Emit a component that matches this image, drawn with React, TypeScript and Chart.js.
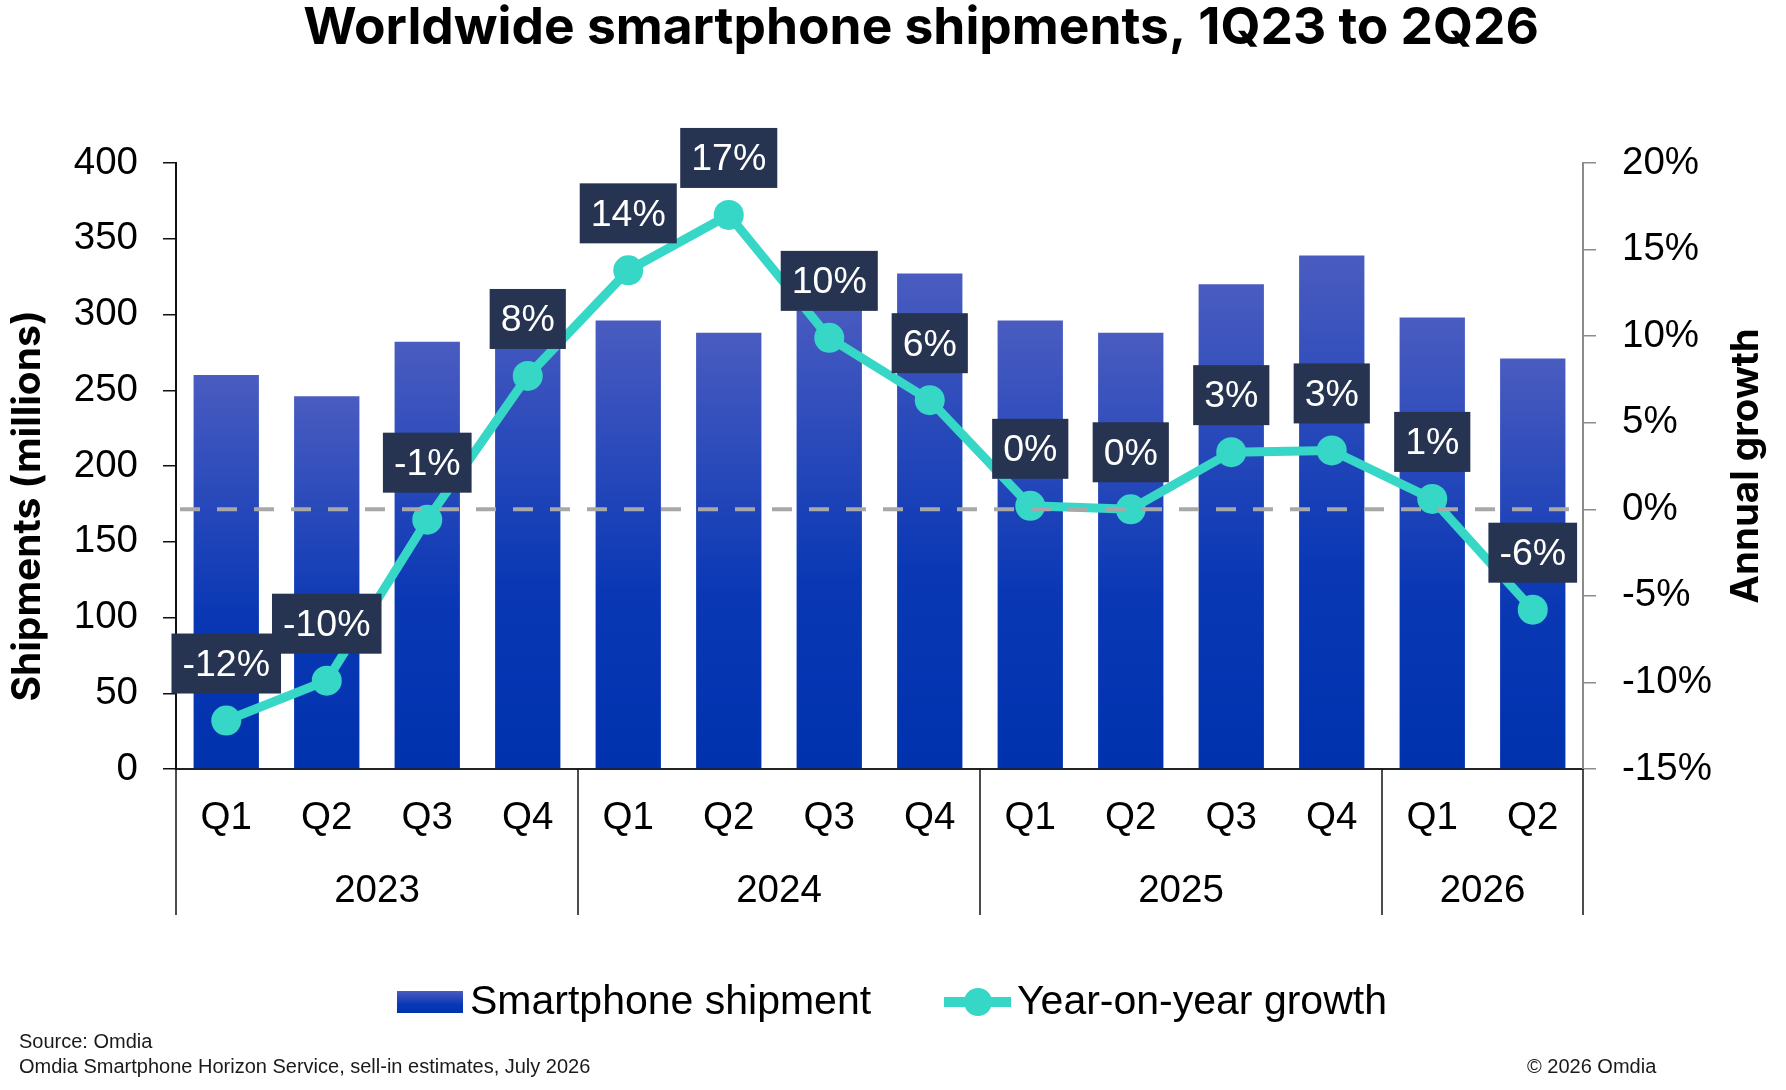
import React, { useEffect, useRef } from 'react';
import { Chart, registerables } from 'chart.js';

Chart.register(...registerables);

// Quarterly smartphone shipments (millions) and year-on-year growth (%)
const quarters = ['Q1', 'Q2', 'Q3', 'Q4', 'Q1', 'Q2', 'Q3', 'Q4', 'Q1', 'Q2', 'Q3', 'Q4', 'Q1', 'Q2'];
const years = ['2023', '2024', '2025', '2026'];
const quartersPerYear = [4, 4, 4, 2];
const shipments = [260, 246, 282, 309, 296, 288, 310, 327, 296, 288, 320, 339, 298, 271];
const growth = [-12.2, -9.9, -0.6, 7.7, 13.8, 17.0, 9.9, 6.3, 0.2, 0.0, 3.3, 3.4, 0.6, -5.8];

const shipmentAxis = { min: 0, max: 400, step: 50 };
const growthAxis = { min: -15, max: 20, step: 5 };

const TITLE = 'Worldwide smartphone shipments, 1Q23 to 2Q26';
const LEFT_TITLE = 'Shipments (millions)';
const RIGHT_TITLE = 'Annual growth';
const LEGEND_BAR = 'Smartphone shipment';
const LEGEND_LINE = 'Year-on-year growth';
const SOURCE_LINES = ['Source: Omdia', 'Omdia Smartphone Horizon Service, sell-in estimates, July 2026'];
const COPYRIGHT = '© 2026 Omdia';

const W = 1786;
const H = 1090;
const TEAL = '#36d7c6';
const BOX = '#263451';
const REG = '"Liberation Sans", Arial, sans-serif';
const BOLD = 'Inter, "Liberation Sans", Arial, sans-serif';
const TICK_SIZE = 38.5;

function barGradient(ctx: CanvasRenderingContext2D, top: number, bottom: number) {
  const g = ctx.createLinearGradient(0, top, 0, bottom);
  g.addColorStop(0, '#4a5cc0');
  g.addColorStop(0.6, '#0a38b5');
  g.addColorStop(1, '#0032ae');
  return g;
}

const decorations = {
  id: 'decorations',
  afterDatasetsDraw(chart: any) {
    const { ctx, chartArea, scales } = chart;
    const y1 = scales.y1;
    // dashed zero-growth reference line
    const zy = y1.getPixelForValue(0);
    ctx.save();
    ctx.strokeStyle = '#a8a8a8';
    ctx.lineWidth = 4;
    ctx.setLineDash([20, 17]);
    ctx.beginPath();
    ctx.moveTo(chartArea.left + 4, zy);
    ctx.lineTo(chartArea.right, zy);
    ctx.stroke();
    ctx.restore();

    // value boxes above each growth point
    const meta = chart.getDatasetMeta(0);
    ctx.save();
    ctx.font = `37.5px ${REG}`;
    ctx.textAlign = 'center';
    ctx.textBaseline = 'middle';
    meta.data.forEach((pt: any, i: number) => {
      const text = `${Math.round(growth[i])}%`;
      const tw = ctx.measureText(text).width;
      const bw = tw + 22;
      const bh = 60;
      const bottom = pt.y - 27;
      ctx.fillStyle = BOX;
      ctx.fillRect(pt.x - bw / 2, bottom - bh, bw, bh);
      ctx.fillStyle = '#ffffff';
      ctx.fillText(text, pt.x, bottom - bh / 2 + 2);
    });
    ctx.restore();
  },
  afterDraw(chart: any) {
    const { ctx, chartArea, scales } = chart;
    const x = scales.x;
    const bottom = chartArea.bottom;
    const sepBottom = 915;

    // year group separators and labels
    ctx.save();
    ctx.strokeStyle = '#111';
    ctx.lineWidth = 1.5;
    let start = 0;
    const edges: number[] = [chartArea.left];
    quartersPerYear.forEach((n) => {
      const end = start + n;
      const px = end >= quarters.length
        ? chartArea.right
        : (x.getPixelForValue(end - 1) + x.getPixelForValue(end)) / 2;
      edges.push(px);
      start = end;
    });
    edges.forEach((px) => {
      ctx.beginPath();
      ctx.moveTo(px, bottom);
      ctx.lineTo(px, sepBottom);
      ctx.stroke();
    });
    ctx.fillStyle = '#000';
    ctx.font = `${TICK_SIZE}px ${REG}`;
    ctx.textAlign = 'center';
    ctx.textBaseline = 'middle';
    years.forEach((yr, i) => {
      ctx.fillText(yr, (edges[i] + edges[i + 1]) / 2, 891);
    });

    // axis titles
    ctx.font = `bold 39px ${BOLD}`;
    ctx.save();
    ctx.translate(28, 506);
    ctx.rotate(-Math.PI / 2);
    ctx.fillText(LEFT_TITLE, 0, 0);
    ctx.restore();
    ctx.font = `bold 38.5px ${BOLD}`;
    ctx.save();
    ctx.translate(1746, 466);
    ctx.rotate(-Math.PI / 2);
    ctx.fillText(RIGHT_TITLE, 0, 0);
    ctx.restore();

    // chart title
    ctx.font = `bold 51.5px ${BOLD}`;
    ctx.textBaseline = 'alphabetic';
    ctx.fillText(TITLE, 921, 44);

    // legend
    ctx.fillStyle = barGradient(ctx, 991, 1013);
    ctx.fillRect(397, 991, 66, 22);
    ctx.strokeStyle = TEAL;
    ctx.lineWidth = 10;
    ctx.beginPath();
    ctx.moveTo(944, 1002);
    ctx.lineTo(1011, 1002);
    ctx.stroke();
    ctx.fillStyle = TEAL;
    ctx.beginPath();
    ctx.arc(978, 1002, 14, 0, Math.PI * 2);
    ctx.fill();
    ctx.fillStyle = '#000';
    ctx.font = `41px ${REG}`;
    ctx.textAlign = 'left';
    ctx.textBaseline = 'middle';
    ctx.fillText(LEGEND_BAR, 470, 1003);
    ctx.fillText(LEGEND_LINE, 1017, 1003);

    // source notes
    ctx.fillStyle = '#1a1a1a';
    ctx.font = `20px ${REG}`;
    ctx.fillText(SOURCE_LINES[0], 19, 1042);
    ctx.fillText(SOURCE_LINES[1], 19, 1067);
    ctx.fillText(COPYRIGHT, 1527, 1067);
    ctx.restore();
  },
};

export default function App() {
  const ref = useRef<HTMLCanvasElement | null>(null);

  useEffect(() => {
    if (!ref.current) return;
    const chart = new Chart(ref.current, {
      type: 'bar',
      data: {
        labels: quarters,
        datasets: [
          {
            type: 'line',
            label: LEGEND_LINE,
            data: growth,
            yAxisID: 'y1',
            borderColor: TEAL,
            backgroundColor: TEAL,
            borderWidth: 9,
            pointRadius: 15,
            pointHoverRadius: 15,
            pointBackgroundColor: TEAL,
            pointBorderWidth: 0,
            tension: 0,
            order: 0,
          } as any,
          {
            type: 'bar',
            label: LEGEND_BAR,
            data: shipments,
            yAxisID: 'y',
            categoryPercentage: 1,
            barPercentage: 0.65,
            order: 1,
            backgroundColor: (c: any) => {
              const ch = c.chart;
              const ys = ch.scales && ch.scales.y;
              if (!ys || c.type !== 'data') return '#1f3fb8';
              const top = ys.getPixelForValue(c.raw);
              const base = ys.getPixelForValue(0);
              if (!isFinite(top) || !isFinite(base) || top === base) return '#1f3fb8';
              return barGradient(ch.ctx, top, base);
            },
          } as any,
        ],
      },
      options: {
        responsive: false,
        animation: false,
        devicePixelRatio: 1,
        layout: { padding: { top: 163, left: 0, right: 0, bottom: 0 } },
        plugins: {
          legend: { display: false },
          tooltip: { enabled: false },
          title: { display: false },
        },
        scales: {
          x: {
            grid: { display: false, drawTicks: false },
            border: { display: true, color: '#222', width: 2 },
            ticks: {
              color: '#000',
              font: { family: REG, size: TICK_SIZE },
              padding: 26,
              autoSkip: false,
              maxRotation: 0,
            },
            afterFit: (s: any) => { s.height = 321; },
          },
          y: {
            position: 'left',
            min: shipmentAxis.min,
            max: shipmentAxis.max,
            grid: { drawOnChartArea: false, tickLength: 13, color: '#111', lineWidth: 1.5 },
            border: { color: '#111', width: 2 },
            ticks: {
              stepSize: shipmentAxis.step,
              color: '#000',
              font: { family: REG, size: TICK_SIZE },
              padding: 25,
            },
            afterFit: (s: any) => { s.width = 176; },
          },
          y1: {
            position: 'right',
            min: growthAxis.min,
            max: growthAxis.max,
            grid: { drawOnChartArea: false, tickLength: 13, color: '#8c8c8c', lineWidth: 1.5 },
            border: { color: '#8c8c8c', width: 2 },
            ticks: {
              stepSize: growthAxis.step,
              color: '#000',
              font: { family: REG, size: TICK_SIZE },
              padding: 26,
              callback: (v: any) => `${v}%`,
            },
            afterFit: (s: any) => { s.width = 203; },
          },
        },
      },
      plugins: [decorations],
    });
    return () => chart.destroy();
  }, []);

  return (
    <div style={{ position: 'fixed', left: 0, top: 0, width: W, height: H, background: '#fff' }}>
      <canvas ref={ref} width={W} height={H} style={{ display: 'block', width: W, height: H }} />
    </div>
  );
}
